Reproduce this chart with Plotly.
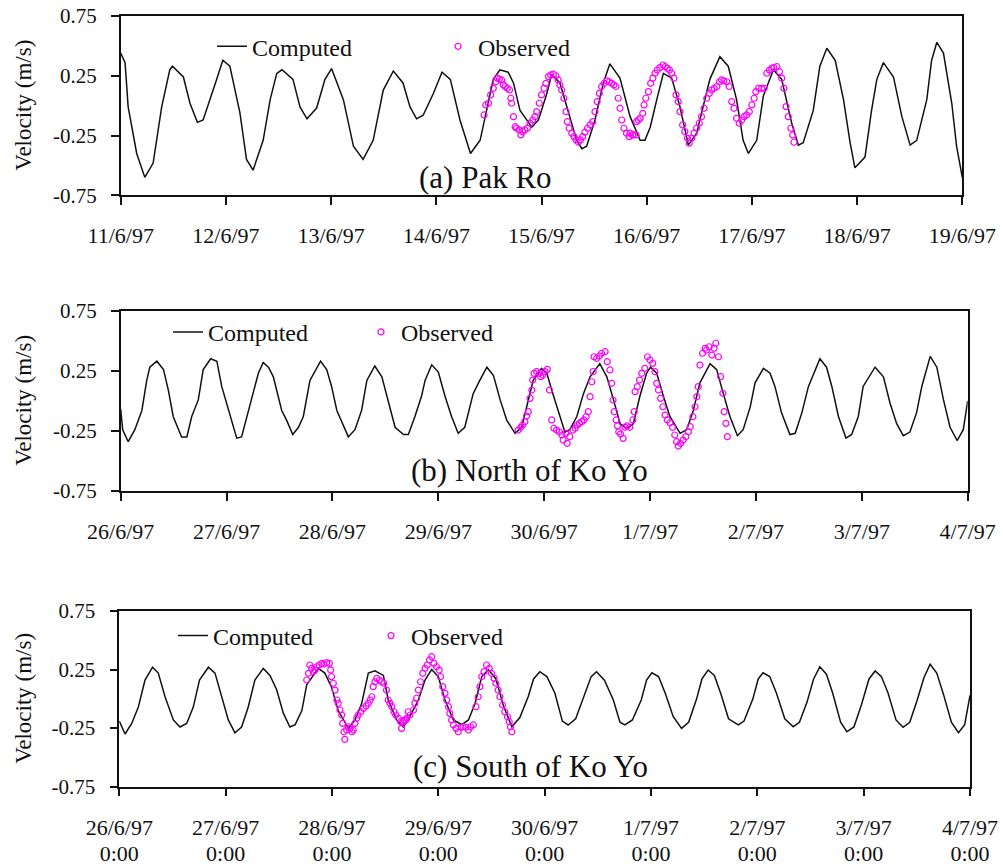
import pandas as pd
import plotly.graph_objects as go

# ---------------- (a) Pak Ro : 11/6/97 - 19/6/97 ----------------
start_a = "1997-06-11"
comp_a_hours = [0.0, 1.0, 1.7, 3.65, 5.5, 7.4, 9.35, 11.2, 11.8, 14.3, 15.8, 17.5, 18.8, 20.5, 21.9, 23.3,
                24.9, 27.2, 28.7, 30.2, 32.5, 34.1, 35.6, 36.8, 39.3, 40.9, 42.5, 44.7, 46.6, 48.1, 50.8,
                53.1, 55.3, 57.6, 59.9, 62.2, 64.4, 66.0, 67.5, 69.0, 71.3, 73.3, 75.2, 77.4, 79.8, 82.0,
                83.5, 85.0, 86.5, 88.4, 89.6, 91.1, 93.8, 95.3, 97.2, 98.3, 100.2, 102.1, 104.0, 105.2,
                106.3, 108.2, 110.1, 111.6, 113.9, 116.2, 118.5, 119.6, 120.8, 122.3, 123.8, 125.7, 127.6,
                129.5, 131.4, 134.4, 136.7, 138.6, 140.5, 142.0, 143.2, 145.1, 146.6, 148.9, 150.8, 153.1,
                154.6, 155.7, 158.0, 159.5, 161.1, 163.0, 164.9, 166.4, 167.5, 169.8, 171.3, 172.5, 174.0,
                176.3, 178.2, 180.1, 181.6, 183.9, 185.0, 186.2, 187.7, 189.6, 190.7, 192.0]
comp_a_vel = [0.44, 0.36, -0.01, -0.40, -0.60, -0.48, -0.01, 0.30, 0.33, 0.24, 0.02, -0.14, -0.12, 0.06, 0.22, 0.38,
              0.33, -0.06, -0.45, -0.54, -0.29, 0.05, 0.27, 0.30, 0.22, -0.01, -0.11, -0.02, 0.22, 0.31, 0.05,
              -0.34, -0.45, -0.29, 0.13, 0.29, 0.19, -0.01, -0.11, -0.08, 0.10, 0.28, 0.22, -0.12, -0.40, -0.29,
              -0.04, 0.22, 0.30, 0.28, 0.19, -0.04, -0.18, -0.12, 0.10, 0.26, 0.19, -0.06, -0.29, -0.36,
              -0.34, -0.12, 0.19, 0.35, 0.23, -0.09, -0.29, -0.29, -0.18, 0.05, 0.27, 0.23, -0.01,
              -0.33, -0.23, 0.22, 0.41, 0.33, 0.05, -0.29, -0.40, -0.29, 0.08, 0.30, 0.22, -0.15,
              -0.33, -0.31, -0.04, 0.33, 0.48, 0.38, 0.05, -0.31, -0.52, -0.43, -0.04, 0.22, 0.36,
              0.24, -0.09, -0.33, -0.29, 0.05, 0.38, 0.53, 0.44, 0.02, -0.34, -0.60]
obs_a_hours = [82.9, 83.3, 83.9, 84.4, 85.0, 85.6, 85.9, 86.4, 86.9, 87.3, 87.7, 88.2, 88.7, 89.0, 89.2, 89.6,
               90.0, 90.3, 90.9, 91.3, 91.7, 92.2, 92.8, 93.4, 94.0, 94.5, 94.9, 95.5, 96.0, 96.6, 97.0, 97.6,
               98.1, 98.7, 99.3, 99.8, 100.2, 100.6, 101.1, 101.6, 101.9, 102.3, 102.9, 103.4, 103.9, 104.4,
               104.9, 105.4, 105.9, 106.5, 107.1, 107.7, 108.2, 108.7, 109.2, 109.7, 110.3, 110.9, 111.5,
               112.0, 112.5, 113.0, 113.5, 113.9, 114.3, 114.8, 115.4, 116.0, 116.2, 116.8, 116.9, 117.6,
               117.7, 118.1, 118.5, 119.1, 119.4, 119.8, 120.4, 120.9, 121.4, 121.9, 122.4, 123.0, 123.7,
               124.2, 124.7, 125.2, 125.7, 126.2, 126.7, 127.2, 127.6, 128.2, 128.7, 129.3, 129.7, 130.3,
               130.8, 131.4, 132.0, 132.5, 133.1, 133.7, 134.3, 134.8, 135.4, 136.0, 136.6, 137.1, 137.6,
               138.3, 138.8, 139.4, 139.9, 140.5, 141.1, 141.7, 142.2, 142.8, 143.4, 144.0, 144.5, 144.9,
               145.5, 146.2, 146.8, 147.4, 148.0, 148.5, 149.0, 149.7, 150.3, 150.8, 151.3, 151.8, 152.3,
               152.9, 153.3, 153.6]
obs_a_vel = [-0.078, 0.006, 0.02, 0.09, 0.145, 0.2, 0.23, 0.223, 0.215, 0.173, 0.16, 0.145, 0.131, 0.062, 0.02,
             -0.092, -0.176, -0.189, -0.203, -0.245, -0.217, -0.203, -0.189, -0.147, -0.12, -0.092, -0.05, 0.02,
             0.09, 0.145, 0.187, 0.243, 0.257, 0.263, 0.25, 0.215, 0.173, 0.131, 0.062, -0.05, -0.134, -0.189,
             -0.23, -0.259, -0.287, -0.306, -0.287, -0.259, -0.222, -0.189, -0.161, -0.134, -0.05, 0.034, 0.103,
             0.16, 0.187, 0.207, 0.2, 0.187, 0.173, 0.16, 0.062, -0.022, -0.12, -0.189, -0.23, -0.259, -0.23,
             -0.245, -0.245, -0.245, -0.134, -0.12, -0.106, -0.064, 0.006, 0.062, 0.117, 0.187, 0.23, 0.271,
             0.298, 0.318, 0.34, 0.326, 0.313, 0.298, 0.271, 0.23, 0.09, 0.034, -0.05, -0.161, -0.217, -0.273,
             -0.314, -0.273, -0.23, -0.189, -0.147, -0.092, -0.022, 0.062, 0.103, 0.131, 0.145, 0.16, 0.2,
             0.215, 0.207, 0.2, 0.16, 0.034, -0.022, -0.106, -0.147, -0.12, -0.092, -0.078, -0.05, 0.006,
             0.062, 0.117, 0.145, 0.145, 0.145, 0.271, 0.298, 0.313, 0.318, 0.326, 0.284, 0.23, 0.145, -0.008,
             -0.092, -0.189, -0.245, -0.306]

# ---------------- (b) North of Ko Yo : 26/6/97 - 4/7/97 ----------------
start_bc = "1997-06-26"
comp_b_hours = [0.0, 0.45, 1.7, 3.2, 4.8, 5.9, 6.6, 8.2, 9.7, 10.8, 11.9, 13.8, 15.0, 16.1, 17.6, 18.7, 20.4,
                21.8, 22.9, 24.4, 26.3, 27.4, 28.6, 30.1, 31.2, 32.3, 33.5, 34.6, 36.5, 37.6, 39.0, 40.3,
                41.4, 42.9, 45.3, 46.7, 47.8, 49.0, 51.6, 53.1, 54.6, 55.8, 57.6, 59.2, 60.7, 62.2, 64.1,
                65.2, 66.7, 68.2, 69.0, 70.5, 72.0, 73.5, 75.0, 76.5, 78.0, 79.9, 81.4, 83.0, 84.5, 86.0,
                87.5, 89.4, 90.9, 92.4, 93.5, 95.4, 96.6, 97.7, 99.2, 100.7, 101.8, 103.4, 104.9, 106.4,
                108.6, 110.2, 111.7, 113.2, 114.7, 116.2, 117.7, 119.2, 120.1, 121.5, 123.0, 124.5, 126.8,
                128.3, 129.8, 131.3, 133.6, 135.1, 136.6, 138.1, 139.8, 141.1, 142.7, 143.8, 145.7, 147.2,
                148.3, 149.8, 151.7, 152.9, 154.4, 155.9, 158.5, 160.0, 161.2, 162.7, 164.4, 165.7, 167.2,
                168.3, 171.0, 172.9, 174.4, 175.9, 177.4, 178.9, 180.4, 181.6, 183.5, 185.0, 186.5, 188.0,
                189.6, 191.0, 192.0]
comp_b_vel = [-0.07, -0.24, -0.34, -0.24, -0.08, 0.17, 0.28, 0.33, 0.26, 0.09, -0.13, -0.30, -0.30, -0.13, 0.01,
              0.26, 0.35, 0.33, 0.12, -0.08, -0.31, -0.30, -0.13, 0.06, 0.23, 0.32, 0.28, 0.20, -0.08, -0.16,
              -0.28, -0.22, -0.13, 0.17, 0.33, 0.26, 0.12, -0.08, -0.30, -0.24, -0.08, 0.17, 0.29, 0.20, -0.02,
              -0.22, -0.28, -0.28, -0.13, 0.04, 0.17, 0.30, 0.24, 0.04, -0.13, -0.27, -0.22, 0.06, 0.17, 0.28,
              0.21, 0.01, -0.16, -0.27, -0.22, 0.01, 0.17, 0.27, 0.23, 0.09, -0.08, -0.26, -0.24, -0.13, 0.06,
              0.20, 0.31, 0.20, 0.01, -0.19, -0.23, -0.19, 0.04, 0.23, 0.28, 0.23, 0.04, -0.13, -0.27, -0.24,
              -0.08, 0.15, 0.31, 0.26, 0.06, -0.13, -0.29, -0.24, -0.05, 0.15, 0.27, 0.23, 0.12, -0.10, -0.28,
              -0.27, -0.10, 0.12, 0.35, 0.28, 0.12, -0.13, -0.31, -0.28, -0.13, 0.12, 0.28, 0.20, -0.02, -0.19,
              -0.29, -0.26, -0.10, 0.12, 0.37, 0.28, 0.01, -0.22, -0.33, -0.24, 0.00]
obs_b_hours = [90.1, 90.7, 91.1, 91.6, 92.0, 92.4, 92.8, 93.2, 93.4, 93.7, 94.3, 94.9, 95.2, 95.7, 96.2, 96.7,
               97.2, 97.7, 98.2, 98.8, 99.4, 100.0, 100.3, 100.9, 101.2, 101.8, 102.5, 103.0, 103.5, 104.0,
               104.5, 105.0, 105.5, 106.0, 106.4, 106.8, 107.1, 107.3, 107.9, 108.5, 109.0, 109.8, 110.3,
               110.9, 111.3, 111.6, 111.9, 112.3, 112.6, 112.9, 113.3, 113.9, 114.3, 114.8, 115.4, 116.1,
               116.4, 116.6, 117.1, 117.6, 118.1, 118.8, 119.4, 120.0, 120.6, 121.1, 121.5, 121.9, 122.4,
               122.9, 123.4, 123.9, 124.5, 125.1, 125.6, 126.0, 126.4, 126.9, 127.5, 128.1, 128.7, 129.1,
               129.7, 130.2, 130.6, 130.9, 131.3, 131.9, 132.5, 132.8, 133.4, 134.0, 134.5, 134.9, 135.5,
               136.0, 136.5, 136.8, 137.2, 137.5]
obs_b_vel = [-0.243, -0.22, -0.201, -0.173, -0.126, -0.09, 0.021, 0.09, 0.173, 0.229, 0.243, 0.229, 0.201, 0.215,
             0.243, 0.262, 0.09, -0.159, -0.228, -0.243, -0.257, -0.284, -0.326, -0.27, -0.353, -0.298, -0.243,
             -0.228, -0.201, -0.187, -0.173, -0.159, -0.132, -0.09, 0.035, 0.159, 0.243, 0.367, 0.354, 0.373,
             0.396, 0.409, 0.326, 0.257, 0.146, 0.007, -0.09, -0.159, -0.209, -0.257, -0.276, -0.312, -0.22,
             -0.209, -0.22, -0.159, -0.09, 0.076, 0.118, 0.173, 0.229, 0.271, 0.367, 0.34, 0.312, 0.243, 0.146,
             0.09, 0.021, -0.049, -0.118, -0.159, -0.182, -0.22, -0.284, -0.34, -0.376, -0.353, -0.326, -0.298,
             -0.257, -0.215, -0.132, -0.049, 0.035, 0.118, 0.298, 0.396, 0.437, 0.423, 0.45, 0.381, 0.437,
             0.479, 0.367, 0.201, 0.063, -0.09, -0.187, -0.298]

# ---------------- (c) South of Ko Yo : 26/6/97 - 4/7/97 ----------------
comp_c_hours = [0.0, 1.3, 2.8, 4.3, 5.8, 7.5, 8.8, 10.3, 12.2, 13.7, 15.2, 16.7, 18.1, 20.1, 21.6, 23.1, 24.6,
                26.1, 27.6, 29.1, 30.6, 32.5, 34.0, 35.5, 37.0, 38.5, 39.7, 41.2, 42.3, 44.9, 46.4, 47.9,
                49.4, 51.7, 53.2, 54.7, 56.2, 57.7, 59.6, 60.7, 62.6, 64.1, 65.6, 67.5, 69.0, 70.5, 72.0,
                73.5, 75.4, 77.3, 78.8, 80.3, 81.8, 83.3, 85.0, 86.7, 88.6, 90.4, 92.3, 93.5, 94.9, 96.5,
                98.3, 100.0, 101.3, 103.0, 105.0, 106.5, 107.7, 109.5, 111.5, 113.0, 114.1, 115.8, 117.8,
                119.0, 120.2, 121.7, 123.2, 125.0, 126.9, 128.5, 130.3, 131.5, 132.9, 134.3, 135.8, 137.5,
                139.7, 141.0, 143.0, 144.2, 145.3, 146.8, 148.3, 150.2, 152.1, 153.5, 155.2, 156.7, 158.1,
                159.6, 161.0, 162.8, 164.2, 165.8, 167.5, 169.2, 170.6, 172.0, 173.5, 175.3, 176.9, 178.4,
                180.0, 181.6, 183.0, 184.5, 186.0, 187.8, 189.4, 190.8, 192.0]
comp_c_vel = [-0.19, -0.30, -0.21, -0.07, 0.16, 0.27, 0.22, 0.02, -0.18, -0.24, -0.21, -0.07, 0.16, 0.27, 0.22,
              0.02, -0.18, -0.29, -0.24, -0.07, 0.16, 0.26, 0.20, 0.08, -0.12, -0.24, -0.22, -0.10, 0.12, 0.26,
              0.22, 0.10, -0.10, -0.25, -0.18, -0.04, 0.22, 0.24, 0.20, -0.01, -0.18, -0.24, -0.15, -0.01, 0.16,
              0.25, 0.19, -0.01, -0.18, -0.22, -0.18, -0.04, 0.19, 0.25, 0.17, -0.06, -0.238, -0.16, 0.02, 0.17,
              0.232, 0.19, 0.05, -0.19, -0.223, -0.17, 0.04, 0.19, 0.232, 0.16, -0.01, -0.20, -0.223, -0.18,
              -0.01, 0.16, 0.223, 0.19, 0.05, -0.15, -0.252, -0.20, 0.00, 0.17, 0.246, 0.20, 0.04, -0.17,
              -0.223, -0.19, 0.00, 0.17, 0.223, 0.19, 0.05, -0.17, -0.238, -0.20, -0.03, 0.17, 0.274, 0.21,
              0.05, -0.20, -0.281, -0.24, -0.05, 0.17, 0.238, 0.19, 0.05, -0.18, -0.243, -0.20, -0.02, 0.18,
              0.295, 0.22, 0.04, -0.20, -0.289, -0.22, 0.03]
obs_c_hours = [42.3, 42.7, 43.0, 43.4, 43.8, 44.2, 44.6, 45.1, 45.7, 46.2, 46.8, 47.4, 47.7, 47.9, 48.3, 48.7,
               49.1, 49.4, 49.8, 50.2, 50.4, 50.7, 50.9, 51.3, 51.7, 52.1, 52.5, 52.8, 53.2, 53.6, 53.9, 54.5,
               55.1, 55.7, 56.2, 56.6, 57.0, 57.3, 57.7, 58.1, 58.7, 59.2, 59.7, 60.3, 60.7, 61.1, 61.5, 62.0,
               62.4, 63.0, 63.5, 63.7, 64.1, 64.3, 64.7, 64.9, 65.2, 65.6, 66.4, 66.7, 67.1, 67.5, 68.0, 68.5,
               69.0, 69.5, 70.0, 70.5, 71.0, 71.6, 72.2, 72.5, 73.0, 73.5, 73.9, 74.3, 74.6, 75.0, 75.4, 76.0,
               76.5, 77.1, 77.6, 78.2, 78.8, 79.3, 79.9, 80.5, 81.0, 81.4, 81.8, 82.3, 82.9, 83.5, 84.0, 84.6,
               85.0, 85.5, 85.9, 86.5, 87.0, 87.6, 88.0, 88.3, 88.6]
obs_c_vel = [0.161, 0.218, 0.289, 0.261, 0.232, 0.246, 0.274, 0.289, 0.303, 0.297, 0.309, 0.303, 0.246, 0.189,
             0.133, 0.075, -0.01, -0.038, -0.095, -0.138, -0.209, -0.281, -0.346, -0.266, -0.238, -0.252, -0.281,
             -0.266, -0.209, -0.166, -0.138, -0.11, -0.081, -0.061, -0.038, -0.01, 0.018, 0.104, 0.146, 0.175,
             0.161, 0.146, 0.133, 0.075, -0.01, -0.038, -0.067, -0.11, -0.138, -0.166, -0.195, -0.252, -0.195,
             -0.181, -0.181, -0.166, -0.11, -0.138, -0.095, -0.038, 0.005, 0.075, 0.146, 0.218, 0.261, 0.289,
             0.332, 0.36, 0.303, 0.274, 0.246, 0.189, 0.104, 0.047, -0.01, -0.067, -0.124, -0.181, -0.223,
             -0.252, -0.281, -0.243, -0.238, -0.243, -0.266, -0.238, -0.223, -0.067, 0.018, 0.104, 0.189, 0.232,
             0.289, 0.261, 0.218, 0.175, 0.133, 0.075, 0.018, -0.052, -0.11, -0.153, -0.195, -0.238, -0.281]

# ---------------- axis labels ----------------
date_labels_a = ["11/6/97", "12/6/97", "13/6/97", "14/6/97", "15/6/97", "16/6/97", "17/6/97", "18/6/97", "19/6/97"]
date_labels_bc = ["26/6/97", "27/6/97", "28/6/97", "29/6/97", "30/6/97", "1/7/97", "2/7/97", "3/7/97", "4/7/97"]
time_labels_c = ["0:00"] * 9
y_tick_vals = [-0.75, -0.25, 0.25, 0.75]
y_tick_text = ["-0.75", "-0.25", "0.25", "0.75"]
y_title = "Velocity (m/s)"
panel_titles = ["(a) Pak Ro", "(b) North of Ko Yo", "(c) South of Ko Yo"]

W, H = 1003, 867
SERIF = "Liberation Serif"
INK = "#111111"
MAGENTA = "#ff00ff"


def stamps(start, hours):
    return pd.Timestamp(start) + pd.to_timedelta(pd.Series(hours), unit="h")


def px_x(v):
    return v / W


def px_y(v):
    return 1 - v / H


# plot-area frames in pixels: (left, right, top, bottom)
frames = [(120.7, 962.3, 16.0, 195.3), (120.7, 967.7, 310.7, 491.0), (119.3, 970.0, 611.0, 786.7)]
starts = [start_a, start_bc, start_bc]
series = [
    (comp_a_hours, comp_a_vel, obs_a_hours, obs_a_vel),
    (comp_b_hours, comp_b_vel, obs_b_hours, obs_b_vel),
    (comp_c_hours, comp_c_vel, obs_c_hours, obs_c_vel),
]
tick_labels = [date_labels_a, date_labels_bc, date_labels_bc]
# legend anchor points (pixels): computed item start, observed item start, row centre
legend_pos = [(212.0, 438.0, 46.7), (168.0, 361.0, 332.3), (173.0, 371.0, 636.0)]
title_pos = [(485.5, 178.0), (529.0, 470.0), (530.0, 766.7)]

fig = go.Figure()
layout = dict(template="none", width=W, height=H, margin=dict(l=0, r=0, t=0, b=0, autoexpand=False),
              paper_bgcolor="white", plot_bgcolor="white", showlegend=True, annotations=[])

for i in range(3):
    n = "" if i == 0 else str(i + 1)
    ch, cv, oh, ov = series[i]
    leg_c = "legend" if i == 0 else f"legend{2 * i + 1}"
    leg_o = f"legend{2 * i + 2}"
    fig.add_trace(go.Scatter(x=stamps(starts[i], ch), y=cv, mode="lines", name="Computed",
                             line=dict(color=INK, width=1.5), xaxis="x" + n, yaxis="y" + n, legend=leg_c))
    fig.add_trace(go.Scatter(x=stamps(starts[i], oh), y=ov, mode="markers", name="Observed",
                             marker=dict(symbol="circle-open", size=6, color=MAGENTA, line=dict(width=1.2)),
                             xaxis="x" + n, yaxis="y" + n, legend=leg_o))
    l, r, t, b = frames[i]
    day0 = pd.Timestamp(starts[i])
    days = pd.date_range(day0, periods=9, freq="D")
    layout["xaxis" + n] = dict(
        domain=[px_x(l), px_x(r)], anchor="y" + n, type="date", automargin=False,
        range=[day0, day0 + pd.Timedelta(days=8)], tickvals=days, ticktext=tick_labels[i],
        showgrid=False, zeroline=False, showline=True, mirror=True, linecolor=INK, linewidth=1.5,
        ticks="outside", ticklen=8, tickwidth=1.5, tickcolor=INK, ticklabelstandoff=12,
        tickfont=dict(family=SERIF, size=22, color=INK))
    layout["yaxis" + n] = dict(
        domain=[px_y(b), px_y(t)], anchor="x" + n, range=[-0.75, 0.75], automargin=False,
        tickvals=y_tick_vals, ticktext=y_tick_text,
        showgrid=False, zeroline=False, showline=True, mirror=True, linecolor=INK, linewidth=1.5,
        ticks="outside", ticklen=8, tickwidth=1.5, tickcolor=INK, ticklabelstandoff=10,
        tickfont=dict(family=SERIF, size=21, color=INK))
    cx, ox, ly = legend_pos[i]
    for name, lx in ((leg_c, cx), (leg_o, ox)):
        layout[name] = dict(x=px_x(lx), y=px_y(ly), xanchor="left", yanchor="middle",
                            orientation="h", bgcolor="rgba(0,0,0,0)", borderwidth=0,
                            font=dict(family=SERIF, size=24, color=INK))
    layout["annotations"].append(dict(
        text=panel_titles[i], x=px_x(title_pos[i][0]), y=px_y(title_pos[i][1]), xref="paper", yref="paper",
        xanchor="center", yanchor="middle", showarrow=False, font=dict(family=SERIF, size=31, color=INK)))
    layout["annotations"].append(dict(
        text=y_title, x=px_x(24), y=px_y((t + b) / 2), xref="paper", yref="paper", textangle=-90,
        xanchor="center", yanchor="middle", showarrow=False, font=dict(family=SERIF, size=23, color=INK)))

# second row of time-of-day labels under panel (c)
l, r, t, b = frames[2]
day0 = pd.Timestamp(start_bc)
c_days = pd.date_range(day0, periods=9, freq="D")
fig.add_trace(go.Scatter(x=c_days, y=[None] * len(c_days), mode="markers", xaxis="x4", yaxis="y3",
                         showlegend=False, hoverinfo="skip"))
layout["xaxis4"] = dict(
    domain=[px_x(l), px_x(r)], anchor="y3", overlaying="x3", type="date", automargin=False,
    range=[day0, day0 + pd.Timedelta(days=8)], tickvals=c_days,
    ticktext=time_labels_c, showgrid=False, zeroline=False, showline=False, ticks="",
    ticklabelstandoff=51, tickfont=dict(family=SERIF, size=22, color=INK))

fig.update_layout(**layout)
fig.write_html("out.html")
